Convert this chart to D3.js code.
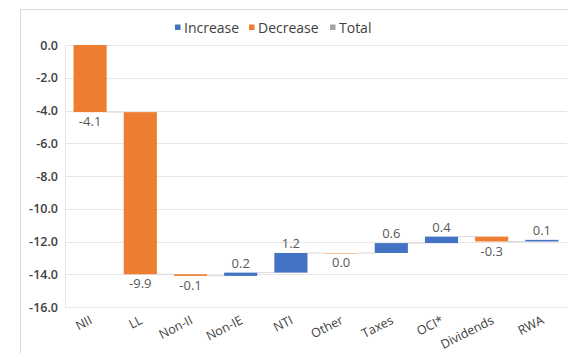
<!DOCTYPE html>
<html>
<head>
<meta charset="utf-8">
<script src="https://cdn.jsdelivr.net/npm/d3@7"></script>
<style>
  html, body { margin: 0; padding: 0; background: #fff; }
  svg text { font-family: "Open Sans", "Liberation Sans", sans-serif; }
</style>
</head>
<body>
<svg id="chart" width="568" height="353"></svg>
<script>
// Capital bridge: contribution of each driver (percentage points)
const categories = ["NII", "LL", "Non-II", "Non-IE", "NTI", "Other", "Taxes", "OCI*", "Dividends", "RWA"];
const changes = [-4.1, -9.9, -0.1, 0.2, 1.2, 0.0, 0.6, 0.4, -0.3, 0.1];
const yTicks = [0, -2, -4, -6, -8, -10, -12, -14, -16];
const legendItems = ["Increase", "Decrease", "Total"];

const colors = { Increase: "#4472C4", Decrease: "#ED7D31", Total: "#A5A5A5" };

// one-decimal format with a plain hyphen for negatives
const fmt = d3.formatLocale({ decimal: ".", thousands: ",", grouping: [3], currency: ["", ""], minus: "-" }).format(".1f");

// Running totals give the floating segment for each driver
let running = 0;
const steps = categories.map((c, i) => {
  const start = running;
  running += changes[i];
  return { cat: c, value: changes[i], start: start, end: running };
});

const svg = d3.select("#chart");
const margin = { left: 65, right: 1, top: 45, bottom: 46 };
const W = 568, H = 353;

// outer chart frame
svg.append("rect")
  .attr("x", 20.5).attr("y", 9.5)
  .attr("width", 600).attr("height", 400)
  .attr("fill", "none").attr("stroke", "#d9d9d9");

const x = d3.scaleBand()
  .domain(categories)
  .range([margin.left, W - margin.right])
  .paddingInner(0.34).paddingOuter(0.17);

const y = d3.scaleLinear()
  .domain([0, -16])
  .range([margin.top, H - margin.bottom]);

// horizontal gridlines
svg.append("g")
  .selectAll("line")
  .data(yTicks)
  .join("line")
  .attr("x1", margin.left).attr("x2", W - margin.right)
  .attr("y1", d => Math.round(y(d)) + 0.5).attr("y2", d => Math.round(y(d)) + 0.5)
  .attr("stroke", "#e6e6e6").attr("stroke-width", 1);

// left plot edge
svg.append("line")
  .attr("x1", margin.left + 0.5).attr("x2", margin.left + 0.5)
  .attr("y1", y(0)).attr("y2", y(-16))
  .attr("stroke", "#e6e6e6");

// y axis labels
const yAxis = d3.axisLeft(y).tickValues(yTicks).tickFormat(fmt).tickSize(0).tickPadding(7);
const yg = svg.append("g").attr("transform", `translate(${margin.left},0)`).call(yAxis);
yg.select(".domain").remove();
yg.selectAll("text")
  .attr("font-size", 12.5).attr("font-weight", 600).attr("fill", "#404040")
  .style("font-family", "'Open Sans', sans-serif");

// connector lines between consecutive bars
svg.append("g")
  .selectAll("line")
  .data(steps.slice(0, -1))
  .join("line")
  .attr("x1", (d) => x(d.cat) + x.bandwidth())
  .attr("x2", (d, i) => x(categories[i + 1]))
  .attr("y1", d => y(d.end)).attr("y2", d => y(d.end))
  .attr("stroke", "#d9d9d9").attr("stroke-width", 1);

// bars
svg.append("g")
  .selectAll("rect")
  .data(steps)
  .join("rect")
  .attr("x", d => x(d.cat))
  .attr("width", x.bandwidth())
  .attr("y", d => y(Math.max(d.start, d.end)))
  .attr("height", d => Math.max(Math.abs(y(d.end) - y(d.start)), 0.8))
  .attr("fill", d => d.value > 0 ? colors.Increase : (d.value < 0 ? colors.Decrease : "#f4b183"));

// value labels
svg.append("g")
  .selectAll("text")
  .data(steps)
  .join("text")
  .attr("x", d => x(d.cat) + x.bandwidth() / 2)
  .attr("y", d => d.value > 0 ? y(d.end) - 5 : y(d.end) + 14)
  .attr("text-anchor", "middle")
  .attr("font-size", 13)
  .attr("fill", "#595959")
  .text(d => fmt(d.value));

// rotated category labels
svg.append("g")
  .selectAll("text")
  .data(categories)
  .join("text")
  .attr("transform", d => `translate(${x(d) + x.bandwidth() / 2 + 3},${H - margin.bottom + 16}) rotate(-27)`)
  .attr("text-anchor", "end")
  .attr("font-size", 12.5)
  .attr("fill", "#404040")
  .text(d => d);

// legend
const legend = svg.append("g");
const lx = [175, 249, 330];
legendItems.forEach((name, i) => {
  legend.append("rect")
    .attr("x", lx[i]).attr("y", 24.5)
    .attr("width", 5.5).attr("height", 5.5)
    .attr("fill", colors[name]);
  legend.append("text")
    .attr("x", lx[i] + 9).attr("y", 33)
    .attr("font-size", 14)
    .attr("font-weight", 500)
    .attr("fill", "#404040")
    .text(name);
});
</script>
</body>
</html>
